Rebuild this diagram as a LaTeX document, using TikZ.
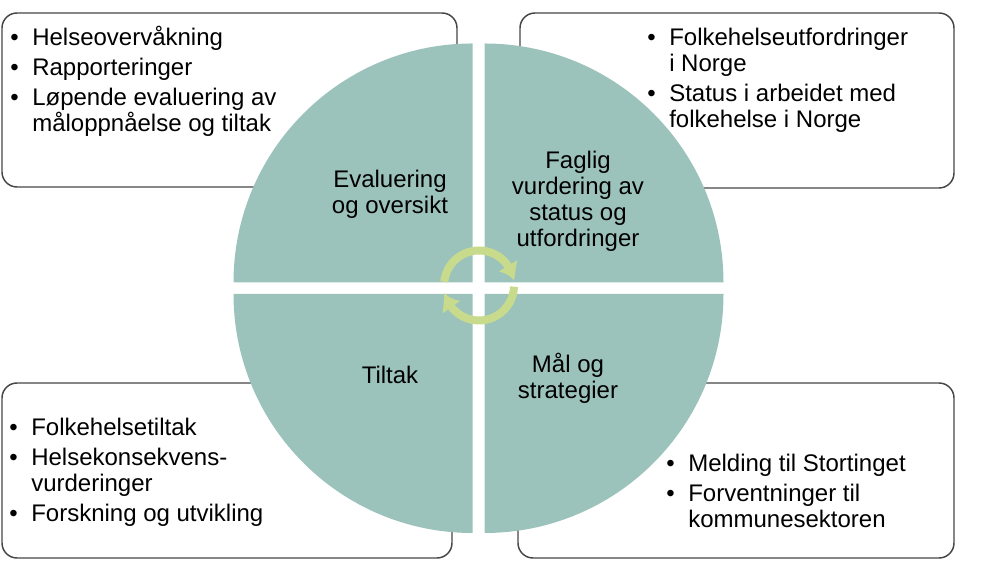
\documentclass[tikz,border=0pt]{standalone}
\usepackage{fontspec}
\setmainfont{Liberation Sans}
\usetikzlibrary{calc,arrows.meta,bending}

\definecolor{quadteal}{RGB}{156,195,187}
\definecolor{ringgreen}{RGB}{200,219,140}
\definecolor{boxgray}{RGB}{70,70,70}

\newcommand{\bul}{\makebox[16.5pt][l]{\textbullet}}
\newcommand{\ind}{\hspace*{16.5pt}}
\newcommand{\topstrut}{\rule{0pt}{15pt}}

\tikzset{
  infobox/.style={draw=boxgray,line width=1.1pt,fill=white,rounded corners=11.25pt},
  quarter/.style={fill=quadteal},
  cyclearrow/.style={draw=ringgreen,line width=6pt,-{Latex[length=12pt,width=17pt,bend]}},
  bullets/.style={anchor=north west,inner sep=0pt,align=left,font=\fontsize{18pt}{19.5pt}\selectfont},
  phase/.style={anchor=north,inner sep=0pt,align=center,font=\fontsize{18pt}{19.5pt}\selectfont}
}

\begin{document}
\begin{tikzpicture}[x=0.75pt,y=0.75pt]
                      \useasboundingbox (0,0) rectangle (1000,577);
                      % boxes
                      \draw[infobox] (2,564) rectangle (457,390);
                      \draw[infobox] (520,564) rectangle (954,389);
                      \draw[infobox] (2,194) rectangle (452,19);
                      \draw[infobox] (518,194) rectangle (954,19);
                      % quarters of the wheel
                      \coordinate (qtl) at (472.5,294.5);
                      \coordinate (qtr) at (484.5,294.5);
                      \coordinate (qbr) at (484.5,283);
                      \coordinate (qbl) at (472.5,283);
                      \fill[quarter] (qtl) -- ++(180:239) arc[start angle=180,end angle=90,radius=239] -- cycle;
                      \fill[quarter] (qtr) -- ++(90:239) arc[start angle=90,end angle=0,radius=239] -- cycle;
                      \fill[quarter] (qbr) -- ++(0:239) arc[start angle=0,end angle=-90,radius=239] -- cycle;
                      \fill[quarter] (qbl) -- ++(-90:239) arc[start angle=270,end angle=180,radius=239] -- cycle;
                      % cycle arrows
                      \coordinate (hub) at (479,291.5);
                      \draw[cyclearrow] ($(hub)+(174:35)$) arc[start angle=174,end angle=8,radius=35];
                      \draw[cyclearrow] ($(hub)+(-2:35)$) arc[start angle=-2,end angle=-168,radius=35];
                      % phase labels
                      \node[phase] (evaluate) at (390,410) {\topstrut Evaluering\\og oversikt};
                      \node[phase] (assess) at (578,429) {\topstrut Faglig\\vurdering av\\status og\\utfordringer};
                      \node[phase] (act) at (390,214) {\topstrut Tiltak};
                      \node[phase] (aim) at (568,225) {\topstrut Mål og\\strategier};
                      % lists
                      \node[bullets] (monitor) at (10,552) {\topstrut\bul Helseovervåkning\\[3pt]\bul Rapporteringer\\[3pt]\bul Løpende evaluering av\\\ind måloppnåelse og tiltak};
                      \node[bullets] (status) at (647,552) {\topstrut\bul Folkehelseutfordringer\\\ind i Norge\\[3pt]\bul Status i arbeidet med\\\ind folkehelse i Norge};
                      \node[bullets] (measures) at (9,162) {\topstrut\bul Folkehelsetiltak\\[3pt]\bul Helsekonsekvens-\\\ind vurderinger\\[3pt]\bul Forskning og utvikling};
                      \node[bullets] (goals) at (666,126) {\topstrut\bul Melding til Stortinget\\[3pt]\bul Forventninger til\\\ind kommunesektoren};
                  \end{tikzpicture}
\end{document}
